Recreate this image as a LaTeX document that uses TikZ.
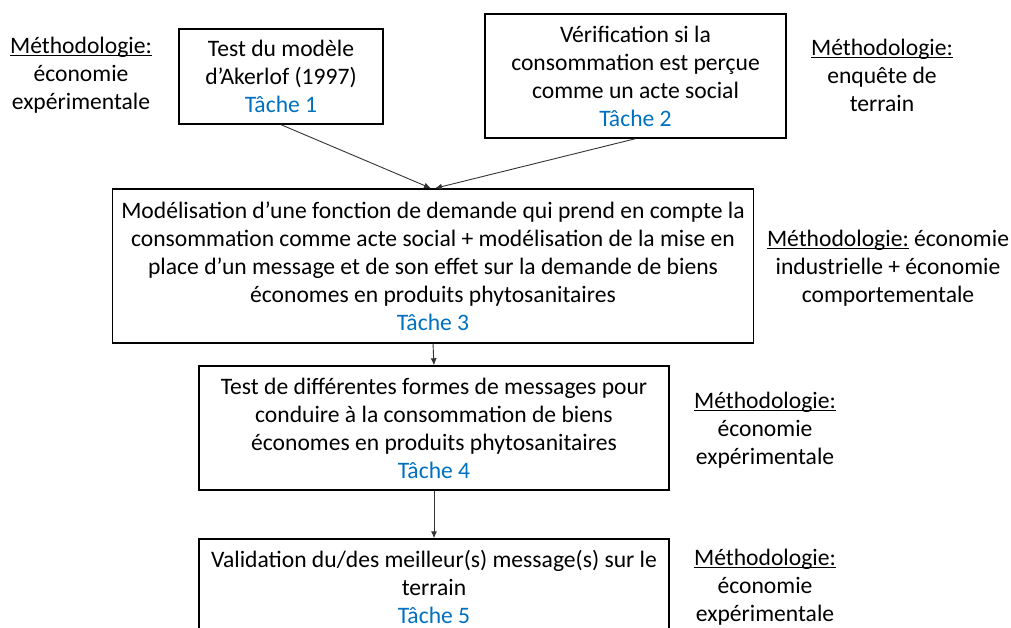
\documentclass[tikz,border=0pt]{standalone}
\usepackage{fontspec}
\setmainfont{Carlito}
\usepackage{xcolor}
\usetikzlibrary{arrows.meta}
\definecolor{tacheblue}{RGB}{0,112,192}
\newcommand{\tache}[1]{\textcolor{tacheblue}{Tâche #1}}
\newsavebox\methbox
\newcommand{\methodo}{\sbox\methbox{Méthodologie:}\rlap{\rule[-3pt]{\wd\methbox}{1.1pt}}\usebox\methbox}

\begin{document}
\begin{tikzpicture}[x=1pt,y=-1pt,
  every node/.style={font=\fontsize{23.6}{28}\selectfont, align=center, inner sep=0pt},
  tachebox/.style={draw, line width=1.4pt},
  arrowline/.style={line width=0.9pt, black!80, -{Latex[length=7pt,width=6pt]}}]
\useasboundingbox (0,0) rectangle (1011,628);
\clip (0,0) rectangle (1011,628);

% taches
\node[tachebox, minimum width=204pt, minimum height=95pt] (t1) at (281,76.5)
  {Test du modèle\\d’Akerlof (1997)\\\tache{1}};
\node[tachebox, minimum width=301pt, minimum height=124pt] (t2) at (635.5,76)
  {Vérification si la\\consommation est perçue\\comme un acte social\\\tache{2}};
\node[tachebox, minimum width=641pt, minimum height=154pt] (t3) at (433,266)
  {Modélisation d’une fonction de demande qui prend en compte la\\consommation comme acte social + modélisation de la mise en\\place d’un message et de son effet sur la demande de biens\\économes en produits phytosanitaires\\\tache{3}};
\node[tachebox, minimum width=470pt, minimum height=124pt] (t4) at (434,428)
  {Test de différentes formes de messages pour\\conduire à la consommation de biens\\économes en produits phytosanitaires\\\tache{4}};
\node[tachebox, minimum width=470pt, minimum height=96pt] (t5) at (434,587)
  {Validation du/des meilleur(s) message(s) sur le\\terrain\\\tache{5}};

% methodologies
\node (m1) at (81,75) {\methodo\\économie\\expérimentale};
\node (m2) at (882,75) {\methodo\\enquête de\\terrain};
\node (m3) at (888,268) {\methodo{} économie\\industrielle + économie\\comportementale};
\node (m4) at (765,430) {\methodo\\économie\\expérimentale};
\node (m5) at (765,587) {\methodo\\économie\\expérimentale};

\draw[arrowline] (t1.south) -- ([xshift=-2pt]t3.north);
\draw[arrowline] (t2.south) -- ([xshift=2pt]t3.north);
\draw[arrowline] (t3.south) -- (t4.north);
\draw[arrowline] (t4.south) -- (t5.north);
\end{tikzpicture}
\end{document}
